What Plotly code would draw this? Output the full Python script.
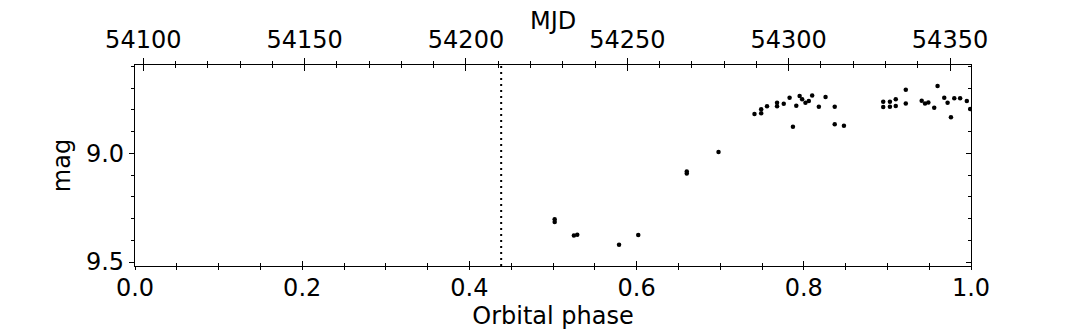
import plotly.graph_objects as go

# phase / magnitude
phase = [0.502, 0.502, 0.525, 0.529, 0.579, 0.602, 0.660, 0.660, 0.698,
         0.741, 0.749, 0.749, 0.756, 0.768, 0.768, 0.776, 0.783, 0.787,
         0.791, 0.795, 0.798, 0.802, 0.806, 0.810, 0.818, 0.826, 0.837,
         0.837, 0.848,
         0.895, 0.895, 0.903, 0.903, 0.910, 0.910, 0.922, 0.922, 0.941,
         0.945, 0.949, 0.956, 0.960, 0.968, 0.972, 0.976, 0.980, 0.987,
         0.995, 0.999]
mag = [9.303, 9.315, 9.378, 9.374, 9.420, 9.375, 9.083, 9.092, 8.993,
       8.819, 8.797, 8.815, 8.783, 8.767, 8.783, 8.771, 8.744, 8.877,
       8.781, 8.736, 8.751, 8.767, 8.759, 8.733, 8.785, 8.740, 8.785,
       8.866, 8.873,
       8.762, 8.786, 8.762, 8.785, 8.751, 8.782, 8.707, 8.770, 8.757,
       8.770, 8.765, 8.790, 8.690, 8.744, 8.767, 8.833, 8.746, 8.746,
       8.759, 8.796]

phase_marker = 0.438
phase_ticks = [0.0, 0.2, 0.4, 0.6, 0.8, 1.0]
mjd_range = [54097.43, 54356.5]
mag_ticks = [9.0, 9.5]
mag_range = [9.518, 8.593]

FONT = dict(family="DejaVu Sans", size=24, color="black")

fig = go.Figure()
fig.add_trace(go.Scatter(x=phase, y=mag, mode="markers",
                         marker=dict(color="black", size=4.5),
                         showlegend=False, hoverinfo="skip"))

fig.add_shape(type="line", x0=phase_marker, x1=phase_marker, xref="x",
              y0=0, y1=1, yref="paper",
              line=dict(color="black", width=2, dash="2px,4px"))

# top axis title sits higher than plotly would put it
fig.add_annotation(text="MJD", x=0.5, xref="paper", y=1.0, yref="paper",
                   yanchor="middle", yshift=44, borderpad=0,
                   showarrow=False, font=FONT)

common = dict(showgrid=False, zeroline=False, tickcolor="black",
              tickwidth=1.2, tickfont=FONT, automargin=False)

# page body has an 8px margin, so the plot box is offset by that
fig.update_layout(
    width=1080, height=331,
    margin=dict(l=127, r=117, t=57, b=73),
    paper_bgcolor="white", plot_bgcolor="white",
    font=FONT,
    xaxis=dict(range=[0, 1], tickvals=phase_ticks,
               ticktext=[f"{v:.1f}" for v in phase_ticks],
               ticks="outside", ticklen=3, ticklabelstandoff=-3,
               minor=dict(dtick=0.05, tick0=0, ticks="outside", ticklen=2.5,
                          tickcolor="black", tickwidth=1),
               showline=True, linecolor="black", linewidth=1.3,
               title=dict(text="Orbital phase", font=FONT, standoff=4),
               **common),
    xaxis3=dict(range=[0, 1], overlaying="x", anchor="y", side="bottom",
                tickvals=phase_ticks, showticklabels=False,
                ticks="inside", ticklen=5,
                minor=dict(dtick=0.05, tick0=0, ticks="inside", ticklen=3.5,
                           tickcolor="black", tickwidth=1),
                **common),
    xaxis2=dict(range=mjd_range, overlaying="x", anchor="y", side="top",
                tick0=54100, dtick=50, tickformat="d",
                ticks="outside", ticklen=6,
                minor=dict(dtick=10, tick0=54100, ticks="outside", ticklen=3,
                           tickcolor="black", tickwidth=1),
                showline=True, linecolor="black", linewidth=1.3,
                **common),
    xaxis4=dict(range=mjd_range, overlaying="x", anchor="y", side="top",
                tick0=54100, dtick=50, showticklabels=False,
                ticks="inside", ticklen=6,
                minor=dict(dtick=10, tick0=54100, ticks="inside", ticklen=3,
                           tickcolor="black", tickwidth=1),
                **common),
    yaxis=dict(range=mag_range, tickvals=mag_ticks,
               ticktext=[f"{v:.1f}" for v in mag_ticks],
               ticks="outside", ticklen=5,
               minor=dict(dtick=0.1, tick0=9.0, ticks="outside", ticklen=3,
                          tickcolor="black", tickwidth=1),
               showline=True, linecolor="black", linewidth=1.3,
               title=dict(text="mag", font=FONT, standoff=8),
               **common),
    yaxis2=dict(range=mag_range, overlaying="y", anchor="x", side="right",
                tickvals=mag_ticks, showticklabels=False,
                ticks="inside", ticklen=5,
                minor=dict(dtick=0.1, tick0=9.0, ticks="inside", ticklen=3,
                           tickcolor="black", tickwidth=1),
                showline=True, linecolor="black", linewidth=1.3,
                **common),
)

# empty traces so the overlay axes get drawn
for xa, ya in [("x2", "y"), ("x3", "y"), ("x4", "y"), ("x", "y2")]:
    fig.add_trace(go.Scatter(x=[None], y=[None], xaxis=xa, yaxis=ya,
                             showlegend=False, hoverinfo="skip"))

fig.write_html("out.html")
